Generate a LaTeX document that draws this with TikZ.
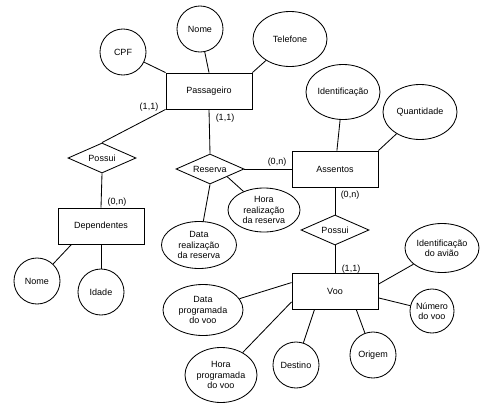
\documentclass[tikz,border=0pt]{standalone}
\usepackage{fontspec}
\setmainfont{Liberation Sans}
\usetikzlibrary{shapes.geometric}

\begin{document}
\begin{tikzpicture}[
  x=0.025cm, y=-0.025cm,
  every node/.style={font=\fontsize{6.4}{7.2}\selectfont},
  entity/.style={draw, line width=0.6pt, minimum width=2.15cm, minimum height=0.9cm, inner sep=0pt},
  relation/.style={draw, diamond, line width=0.6pt, minimum width=1.7cm, minimum height=0.75cm, inner sep=0pt, aspect=2.2},
  attrc/.style={draw, circle, line width=0.6pt, minimum size=1.15cm, inner sep=0pt, align=center},
  attre/.style={draw, ellipse, line width=0.6pt, inner sep=0pt, align=center},
  link/.style={line width=0.6pt}
]
\useasboundingbox (0,0) rectangle (487,408);

\node[entity] (pass) at (209,91) {Passageiro};
\node[entity] (dep) at (101,226) {Dependentes};
\node[entity] (assentos) at (335,169) {Assentos};
\node[entity] (voo) at (335,291) {Voo};

\node[relation] (possuiDep) at (102,158) {Possui};
\node[relation] (reserva) at (210,169) {Reserva};
\node[relation] (possuiVoo) at (335,230) {Possui};

\node[attrc] (cpf) at (123,52) {CPF};
\node[attrc] (nome) at (200,29) {Nome};
\node[attre, minimum width=1.85cm, minimum height=1.375cm] (telefone) at (290,39) {Telefone};
\node[attrc] (nomeDep) at (37,281) {Nome};
\node[attrc] (idade) at (101,292) {Idade};
\node[attre, minimum width=1.85cm, minimum height=1.375cm] (ident) at (343,92) {Identificação};
\node[attre, minimum width=1.85cm, minimum height=1.375cm] (quant) at (420,112) {Quantidade};
\node[attre, minimum width=1.875cm, minimum height=1.175cm] (dataReal) at (199,245) {Data\\realização\\da reserva};
\node[attre, minimum width=1.8cm, minimum height=1.1cm] (horaReal) at (264,210) {Hora\\realização\\da reserva};
\node[attre, minimum width=1.85cm, minimum height=1.225cm] (aviao) at (442,248) {Identificação\\do avião};
\node[attrc, minimum size=1.1cm] (numero) at (432,311) {Número\\do voo};
\node[attrc] (origem) at (373,355) {Origem};
\node[attrc] (destino) at (296,365) {Destino};
\node[attre, minimum width=2cm, minimum height=1.275cm] (dataProg) at (203,310) {Data\\programada\\do voo};
\node[attre, minimum width=1.8cm, minimum height=1.375cm] (horaProg) at (221,375) {Hora\\programada\\do voo};

\node (c1) at (149,107) {(1,1)};
\node (c2) at (225,118) {(1,1)};
\node (c3) at (117,202) {(0,n)};
\node (c4) at (277,162) {(0,n)};
\node (c5) at (350,195) {(0,n)};
\node (c6) at (351,269) {(1,1)};

\draw[link] (cpf) -- (pass.north west);
\draw[link] (nome) -- (pass.north);
\draw[link] (telefone) -- (pass.north east);
\draw[link] (pass.south west) -- (possuiDep.north);
\draw[link] (possuiDep.south) -- (dep.north);
\draw[link] (dep.212) -- (nomeDep);
\draw[link] (dep.south) -- (idade.north);
\draw[link] (pass.south) -- (reserva.north);
\draw[link] (reserva.east) -- (assentos.west);
\draw[link] (reserva.south) -- (dataReal);
\draw[link] (reserva.south east) -- (horaReal);
\draw[link] (ident) -- (assentos);
\draw[link] (quant) -- (assentos.north east);
\draw[link] (assentos.south) -- (possuiVoo.north);
\draw[link] (possuiVoo.south) -- (voo.north);
\draw[link] (voo.9) -- (aviao);
\draw[link] (voo.-9) -- (numero);
\draw[link] (voo.-41) -- (origem);
\draw[link] (voo.-138) -- (destino);
\draw[link] (voo.169) -- (dataProg);
\draw[link] (voo.194) -- (horaProg);
\end{tikzpicture}
\end{document}
